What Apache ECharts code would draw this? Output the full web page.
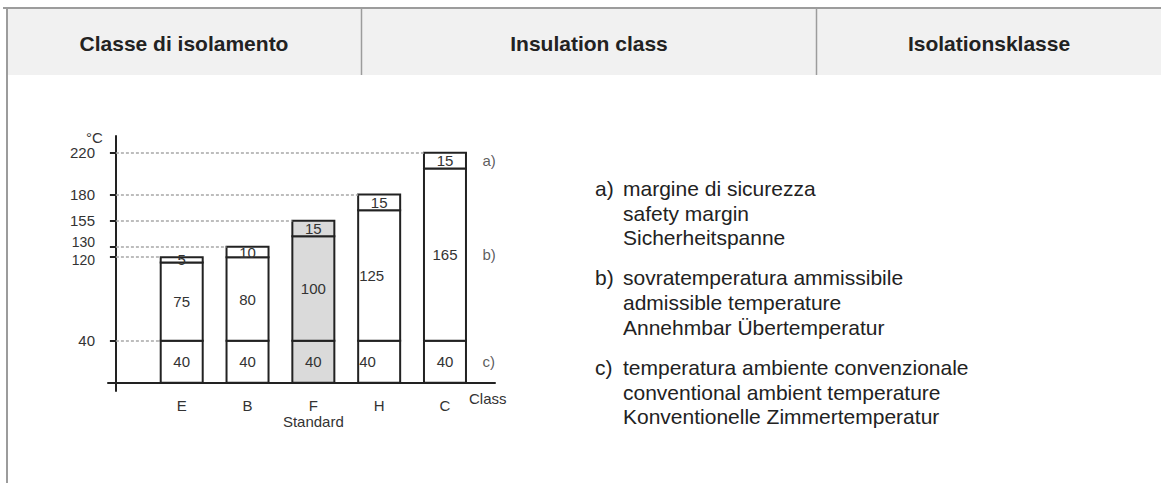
<!DOCTYPE html>
<html>
<head>
<meta charset="utf-8">
<title>Classe di isolamento</title>
<script src="https://cdn.jsdelivr.net/npm/echarts@6/dist/echarts.min.js"></script>
<style>
  html, body { margin: 0; padding: 0; background: #ffffff; }
  #chart { width: 1161px; height: 483px; }
</style>
</head>
<body>
<div id="chart"></div>
<script>
// Insulation classes and how their limit temperature (°C) is built up
const classes = ['E', 'B', 'F', 'H', 'C'];
const classNotes = ['', '', 'Standard', '', ''];
const ambientTemp = [40, 40, 40, 40, 40];      // c) conventional ambient temperature
const allowedRise = [75, 80, 100, 125, 165];   // b) admissible temperature rise
const safetyMargin = [5, 10, 15, 15, 15];      // a) safety margin
const tempTicks = [40, 120, 130, 155, 180, 220];
const standardClass = 'F';
const partKeys = ['c)', 'b)', 'a)'];           // bottom-up, same order as the parts below

const headerTitles = ['Classe di isolamento', 'Insulation class', 'Isolationsklasse'];
const noteKeys = ['a)', 'b)', 'c)'];
const noteA = ['margine di sicurezza', 'safety margin', 'Sicherheitspanne'];
const noteB = ['sovratemperatura ammissibile', 'admissible temperature', 'Annehmbar Übertemperatur'];
const noteC = ['temperatura ambiente convenzionale', 'conventional ambient temperature', 'Konventionelle Zimmertemperatur'];

// ---- layout ----
const FONT = '"Liberation Sans", Arial, Helvetica, sans-serif';
const INK = '#222222';
const TEXT = '#333333';
const FRAME = '#9c9c9c';
const GRID = { left: 108, top: 136, width: 387, height: 255 };
const X_MIN = -0.12, X_MAX = 5.76;
const Y_MIN = -8, Y_MAX = 236;
const BAR_WIDTH = 42;
const xUnitPx = GRID.width / (X_MAX - X_MIN);
const barHalf = BAR_WIDTH / 2 / xUnitPx;

// one rectangle per part of every class column
const partValues = [ambientTemp, allowedRise, safetyMargin];
const segments = [];
classes.forEach((name, i) => {
  let base = 0;
  partValues.forEach((vals, p) => {
    segments.push([i + 1, base, base + vals[i], vals[i], i, p]);
    base += vals[i];
  });
});

// a) b) c) keys beside the last column, at the middle of each part
const lastIdx = classes.length - 1;
const keyMarks = [];
let acc = 0;
partValues.forEach((vals, p) => {
  keyMarks.push({ value: [lastIdx + 1, acc + vals[lastIdx] / 2], key: partKeys[p] });
  acc += vals[lastIdx];
});

// dotted guides from the axis to the top of each column (and to the ambient level)
const totals = classes.map((_, i) => ambientTemp[i] + allowedRise[i] + safetyMargin[i]);
const guides = totals.map((t, i) => [{ coord: [0, t] }, { coord: [i + 1 - barHalf, t] }]);
guides.push([{ coord: [0, ambientTemp[0]] }, { coord: [1 - barHalf, ambientTemp[0]] }]);

// tick labels that crowd each other are eased apart a little
const CLOSE_TICKS = 12;
const tickShift = {};
tempTicks.forEach((v, i) => {
  const next = tempTicks[i + 1];
  if (next !== undefined && next - v < CLOSE_TICKS) {
    tickShift[v] = 'dn';
    tickShift[next] = 'up';
  }
});

// labels in the H column sit against its left edge
const leftLabelled = { H: [0, 1] };

function renderPart(params, api) {
  const x = api.value(0);
  const lo = api.value(1);
  const hi = api.value(2);
  const value = api.value(3);
  const cls = classes[api.value(4)];
  const part = api.value(5);
  const p0 = api.coord([x, lo]);
  const p1 = api.coord([x, hi]);
  const leftSide = (leftLabelled[cls] || []).indexOf(part) >= 0;
  return {
    type: 'rect',
    shape: { x: p0[0] - BAR_WIDTH / 2, y: p1[1], width: BAR_WIDTH, height: p0[1] - p1[1] },
    style: { fill: cls === standardClass ? '#dadada' : '#ffffff', stroke: INK, lineWidth: 2 },
    textContent: {
      style: { text: String(value), fontSize: 15, fontFamily: FONT, fill: TEXT }
    },
    textConfig: { position: leftSide ? 'insideLeft' : 'inside', distance: 2 }
  };
}

// header band and notes
const graphics = [
  { type: 'rect', shape: { x: 7, y: 8, width: 1154, height: 67 }, style: { fill: '#f1f1f1' }, silent: true },
  { type: 'line', shape: { x1: 3, y1: 8, x2: 1161, y2: 8 }, style: { stroke: FRAME, lineWidth: 2 }, silent: true },
  { type: 'line', shape: { x1: 7, y1: 8, x2: 7, y2: 483 }, style: { stroke: FRAME, lineWidth: 2 }, silent: true },
  { type: 'line', shape: { x1: 361.5, y1: 8, x2: 361.5, y2: 75 }, style: { stroke: FRAME, lineWidth: 1.5 }, silent: true },
  { type: 'line', shape: { x1: 816.5, y1: 8, x2: 816.5, y2: 75 }, style: { stroke: FRAME, lineWidth: 1.5 }, silent: true }
];
const headerCenters = [184, 589, 989];
headerTitles.forEach((t, i) => {
  graphics.push({
    type: 'text', x: headerCenters[i], y: 43, silent: true,
    style: { text: t, fontSize: 21, fontWeight: 'bold', fontFamily: FONT, fill: INK, align: 'center', verticalAlign: 'middle' }
  });
});
[noteA, noteB, noteC].forEach((lines, j) => {
  const top = 176 + j * 89.5;
  graphics.push({
    type: 'text', x: 595, y: top, silent: true,
    style: { text: noteKeys[j], fontSize: 21, fontFamily: FONT, fill: INK, align: 'left', verticalAlign: 'top', lineHeight: 24.7 }
  });
  graphics.push({
    type: 'text', x: 623, y: top, silent: true,
    style: { text: lines.join('\n'), fontSize: 21, fontFamily: FONT, fill: INK, align: 'left', verticalAlign: 'top', lineHeight: 24.7 }
  });
});

const chart = echarts.init(document.getElementById('chart'), null, { renderer: 'svg' });
chart.setOption({
  animation: false,
  backgroundColor: '#ffffff',
  textStyle: { fontFamily: FONT },
  grid: GRID,
  xAxis: {
    type: 'value', min: X_MIN, max: X_MAX,
    name: 'Class', nameLocation: 'end', nameGap: -26,
    nameTextStyle: { fontSize: 15, color: TEXT, align: 'left', verticalAlign: 'top', padding: [8, 0, 0, 0] },
    axisLine: { onZero: true, lineStyle: { color: INK, width: 2 } },
    axisTick: { show: false },
    splitLine: { show: false },
    axisLabel: {
      customValues: classes.map((_, i) => i + 1),
      formatter: v => {
        const i = Math.round(v) - 1;
        return classNotes[i] ? classes[i] + '\n' + classNotes[i] : classes[i];
      },
      fontSize: 15, color: TEXT, lineHeight: 16, margin: 6
    }
  },
  yAxis: {
    type: 'value', min: Y_MIN, max: Y_MAX,
    name: '°C', nameLocation: 'end', nameGap: -7,
    nameTextStyle: { fontSize: 15, color: TEXT, align: 'right', verticalAlign: 'middle', padding: [0, 13, 0, 0] },
    axisLine: { onZero: true, lineStyle: { color: INK, width: 2 } },
    axisTick: { customValues: tempTicks, length: 6, lineStyle: { color: INK, width: 2 } },
    axisLabel: {
      customValues: tempTicks,
      formatter: v => tickShift[v] ? '{' + tickShift[v] + '|' + v + '}' : String(v),
      rich: {
        up: { fontSize: 14, color: TEXT, padding: [0, 0, 9, 0] },
        dn: { fontSize: 14, color: TEXT, padding: [6, 0, 0, 0] }
      },
      fontSize: 15, color: TEXT, margin: 13
    },
    splitLine: { show: false }
  },
  series: [
    {
      type: 'custom',
      name: 'parts',
      renderItem: renderPart,
      encode: { x: 0, y: [1, 2] },
      data: segments,
      z: 3
    },
    {
      type: 'scatter',
      name: 'keys',
      symbolSize: 1,
      itemStyle: { color: 'rgba(0,0,0,0)' },
      data: keyMarks,
      label: {
        show: true, position: 'right', distance: BAR_WIDTH / 2 + 16,
        formatter: p => p.data.key, fontSize: 15, color: TEXT
      },
      markLine: {
        silent: true, symbol: 'none', label: { show: false },
        lineStyle: { color: '#a8a8a8', type: [3, 2], width: 1.5 },
        data: guides
      },
      z: 2
    }
  ],
  graphic: { elements: graphics }
});
</script>
</body>
</html>
